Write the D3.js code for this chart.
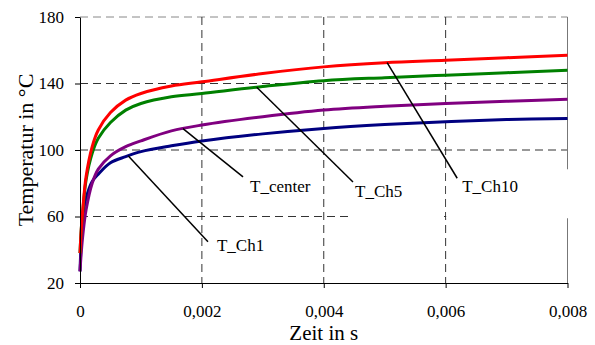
<!DOCTYPE html>
<html>
<head>
<meta charset="utf-8">
<script src="https://cdn.jsdelivr.net/npm/d3@7"></script>
<style>
  body { margin: 0; background: #fff; }
  svg, svg text { font-family: 'Liberation Serif', 'Times New Roman', serif !important; }
</style>
</head>
<body>
<div id="chart"></div>
<script>
const FONT = "'Liberation Serif', 'Times New Roman', serif";

// time in s
const times = [0, 0.00002, 0.00005, 0.0001, 0.0002, 0.0003, 0.0005, 0.00075, 0.001,
    0.0015, 0.002, 0.003, 0.004, 0.005, 0.006, 0.007, 0.008];

// temperatures in °C
const tCh10 = [38, 52, 66, 84, 102, 112, 122.5, 130, 134, 138.5, 141, 146, 150, 152.5, 154, 155.5, 157];
const tCh5 = [38, 52, 65, 82, 98, 107, 116.5, 124, 128, 132, 134, 138.2, 141.7, 143.5, 145, 146.5, 148];
const tCenter = [27, 38, 50, 64, 80, 88.5, 96.5, 102, 105.5, 111.5, 115, 120, 124, 126.3, 128, 129.3, 130.5];
const tCh1 = [27, 45, 61, 71, 81, 85.5, 92.3, 96, 99, 102.5, 105.4, 109.7, 113, 115.3, 117, 118.3, 119];

const seriesNames = ["T_Ch10", "T_Ch5", "T_center", "T_Ch1"];
const seriesValues = [tCh10, tCh5, tCenter, tCh1];
const seriesColors = ["#ff0000", "#008000", "#800080", "#000080"];

const xTicks = [0, 0.002, 0.004, 0.006, 0.008];
const xTickLabels = ["0", "0,002", "0,004", "0,006", "0,008"];
const yTicks = [20, 60, 100, 140, 180];

// leader lines: where they touch the curve (time) and where they end (data coords)
const labelAt = [0.00504, 0.0029, 0.00169, 0.00079];
const labelEndT = [0.00619, 0.00448, 0.002675, 0.0021];
const labelEndV = [83, 80.8, 83.8, 44.8];

const width = 595, height = 345;
const margin = { top: 17, right: 27.5, bottom: 62, left: 80 };
const plotW = width - margin.left - margin.right;
const plotH = height - margin.top - margin.bottom;

const svg = d3.select("#chart").append("svg").attr("width", width).attr("height", height);
const g = svg.append("g").attr("transform", `translate(${margin.left},${margin.top})`);

const x = d3.scaleLinear().domain([0, 0.008]).range([0, plotW]);
const y = d3.scaleLinear().domain([20, 180]).range([plotH, 0]);

// gridlines
g.selectAll(".hgrid").data(yTicks.filter(d => d > 20)).enter().append("line")
    .attr("x1", 0).attr("x2", plotW)
    .attr("y1", d => y(d)).attr("y2", d => y(d))
    .attr("stroke", d => d === 180 ? "#888" : "#333")
    .attr("stroke-width", 1)
    .attr("stroke-dasharray", "8,5");

g.selectAll(".vgrid").data(xTicks.filter(d => d > 0 && d < 0.008)).enter().append("line")
    .attr("x1", d => x(d)).attr("x2", d => x(d))
    .attr("y1", 0).attr("y2", plotH)
    .attr("stroke", "#333")
    .attr("stroke-width", 1)
    .attr("stroke-dasharray", "8,5");

// right border of plot area
g.append("line")
    .attr("x1", plotW).attr("x2", plotW).attr("y1", 0).attr("y2", plotH)
    .attr("stroke", "#777").attr("stroke-width", 1);

// label boxes (white) hide the grid behind them, like in the original
const labelDx = [5, 2, 7, 9];
const labelDy = [14, 15, 15, 9];
const boxPad = [[16, 52, 8, 22], [6, 39, 15, 18], [3, 3, 3, 3], [3, 3, 3, 3]]; // l, r, t, b

const labels = g.append("g");
const texts = seriesNames.map((name, i) =>
    labels.append("text")
        .attr("x", x(labelEndT[i]) + labelDx[i])
        .attr("y", y(labelEndV[i]) + labelDy[i])
        .style("font-family", FONT)
        .attr("font-size", 17)
        .attr("fill", "#000")
        .text(name));

texts.forEach((t, i) => {
    const b = t.node().getBBox();
    const p = boxPad[i];
    labels.insert("rect", "text")
        .attr("x", b.x - p[0]).attr("y", b.y - p[2])
        .attr("width", b.width + p[0] + p[1])
        .attr("height", b.height + p[2] + p[3])
        .attr("fill", "#fff");
});

// curves
const line = d3.line()
    .x((d, i) => x(times[i]))
    .y(d => y(d))
    .curve(d3.curveCatmullRom.alpha(0.5));

// draw in back-to-front order: Ch1, center, Ch5, Ch10
[3, 2, 1, 0].forEach(i => {
    g.append("path")
        .datum(seriesValues[i])
        .attr("fill", "none")
        .attr("stroke", seriesColors[i])
        .attr("stroke-width", 3)
        .attr("stroke-linejoin", "round")
        .attr("d", line);
});

// leader lines
function valueAt(vals, t) {
    const k = d3.bisectRight(times, t) - 1;
    const f = (t - times[k]) / (times[k + 1] - times[k]);
    return vals[k] + f * (vals[k + 1] - vals[k]);
}
seriesNames.forEach((name, i) => {
    labels.append("line")
        .attr("x1", x(labelAt[i])).attr("y1", y(valueAt(seriesValues[i], labelAt[i])))
        .attr("x2", x(labelEndT[i])).attr("y2", y(labelEndV[i]))
        .attr("stroke", "#000").attr("stroke-width", 1.5);
});
labels.raise();

// axes
const xAxis = g.append("g").attr("transform", `translate(0,${plotH})`)
    .call(d3.axisBottom(x).tickValues(xTicks).tickFormat((d, i) => xTickLabels[i])
        .tickSize(5).tickSizeOuter(0).tickPadding(17));
const yAxis = g.append("g")
    .call(d3.axisLeft(y).tickValues(yTicks).tickSize(5).tickSizeOuter(0).tickPadding(11));

[xAxis, yAxis].forEach(a => {
    a.attr("font-family", null);
    a.select(".domain").attr("stroke", "#000");
    a.selectAll(".tick line").attr("stroke", "#000");
    a.selectAll(".tick text")
        .style("font-family", FONT)
        .attr("font-size", 17).attr("fill", "#000");
});

// axis titles
svg.append("text")
    .attr("x", margin.left + plotW / 2)
    .attr("y", 340)
    .attr("text-anchor", "middle")
    .style("font-family", FONT)
    .attr("font-size", 21)
    .text("Zeit in s");

svg.append("text")
    .attr("transform", `translate(33,${margin.top + plotH / 2}) rotate(-90)`)
    .attr("text-anchor", "middle")
    .style("font-family", FONT)
    .attr("font-size", 22)
    .text("Temperatur in °C");
</script>
</body>
</html>
